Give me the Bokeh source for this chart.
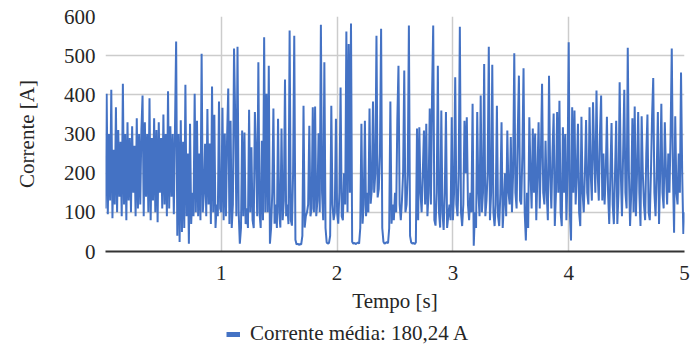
from bokeh.plotting import figure
from bokeh.layouts import column
from bokeh.models import FixedTicker, Legend, LegendItem
from bokeh.embed import file_html
from bokeh.resources import INLINE

# Sampled current [A], one sample every 0.01 s, from 0.00 s to 5.00 s
passo = 0.01
corrente = [
    110, 403, 95, 300, 130, 413, 85, 260, 120, 368,
    100, 310, 140, 280, 90, 428, 120, 300, 80, 330,
    130, 290, 100, 320, 150, 270, 90, 340, 110, 300,
    120, 310, 398, 90, 330, 140, 300, 100, 391, 80,
    290, 130, 340, 100, 310, 75, 330, 150, 290, 110,
    350, 120, 300, 90, 409, 110, 320, 140, 300, 95,
    310, 536, 40, 300, 24, 335, 50, 280, 60, 426,
    90, 250, 20, 326, 70, 150, 90, 403, 100, 334,
    90, 250, 80, 505, 100, 150, 275, 90, 364, 120,
    276, 70, 421, 100, 349, 60, 120, 90, 383, 110,
    100, 367, 80, 301, 90, 292, 416, 70, 334, 60,
    120, 518, 343, 90, 523, 100, 20, 60, 309, 90,
    304, 70, 110, 60, 362, 100, 266, 80, 60, 356,
    250, 90, 483, 100, 60, 283, 80, 547, 100, 403,
    100, 474, 20, 60, 150, 365, 71, 120, 60, 339,
    100, 61, 314, 80, 130, 439, 90, 120, 70, 564,
    80, 66, 200, 551, 30, 18, 20, 17, 19, 18,
    40, 372, 61, 90, 100, 120, 321, 90, 110, 368,
    100, 370, 90, 130, 302, 100, 579, 150, 80, 483,
    60, 23, 20, 22, 40, 372, 120, 80, 100, 339,
    100, 71, 150, 419, 90, 80, 200, 120, 562, 100,
    530, 150, 582, 25, 20, 22, 19, 21, 23, 20,
    60, 326, 71, 120, 334, 90, 150, 100, 365, 122,
    160, 383, 150, 200, 551, 138, 160, 250, 569, 60,
    25, 20, 22, 24, 21, 60, 383, 71, 120, 80,
    150, 100, 334, 474, 120, 80, 130, 200, 462, 100,
    120, 200, 577, 40, 23, 20, 22, 19, 23, 314,
    80, 317, 150, 100, 200, 309, 120, 326, 90, 150,
    365, 120, 403, 577, 80, 66, 150, 474, 100, 61,
    360, 100, 55, 150, 356, 60, 90, 120, 80, 343,
    80, 150, 445, 120, 90, 200, 574, 100, 65, 120,
    334, 200, 343, 120, 80, 150, 100, 377, 15, 100,
    60, 356, 150, 90, 398, 100, 150, 479, 90, 130,
    200, 523, 80, 150, 477, 100, 65, 120, 372, 90,
    65, 150, 330, 60, 120, 200, 90, 309, 150, 120,
    292, 100, 200, 506, 150, 110, 300, 449, 130, 120,
    250, 468, 100, 28, 150, 60, 343, 200, 110, 314,
    150, 301, 80, 200, 330, 110, 250, 428, 150, 120,
    283, 150, 80, 449, 200, 110, 250, 352, 65, 150,
    356, 150, 385, 100, 65, 317, 150, 300, 80, 200,
    534, 100, 28, 368, 150, 360, 120, 200, 326, 100,
    65, 344, 150, 100, 200, 336, 150, 120, 368, 200,
    130, 381, 250, 150, 411, 200, 130, 300, 398, 130,
    250, 120, 200, 344, 150, 70, 200, 328, 120, 70,
    200, 334, 70, 150, 432, 200, 90, 250, 413, 150,
    110, 520, 200, 65, 150, 340, 100, 370, 90, 200,
    356, 150, 65, 345, 200, 120, 80, 250, 350, 100,
    80, 200, 345, 443, 150, 90, 200, 356, 70, 200,
    377, 150, 110, 330, 200, 120, 250, 150, 300, 518,
    200, 48, 345, 150, 120, 250, 150, 457, 200, 45,
    100,
]
tempo = [round(i * passo, 2) for i in range(len(corrente))]

x_ticks = [1, 2, 3, 4, 5]
y_ticks = [0, 100, 200, 300, 400, 500, 600]
rotulo_legenda = "Corrente média: 180,24 A"
rotulo_x = "Tempo [s]"
rotulo_y = "Corrente [A]"

AZUL = "#4472C4"
FONTE = "'Liberation Serif', 'Times New Roman', serif"
TEXTO = "#262626"
TAM = "21px"

p = figure(width=692, height=320, x_range=(0, 5), y_range=(0, 600),
           output_backend="svg", toolbar_location=None,
           min_border_left=105, min_border_right=8, min_border_top=16,
           min_border_bottom=69)
p.outline_line_color = None
p.background_fill_color = "white"
p.border_fill_color = "white"

p.line(tempo, corrente, line_color=AZUL, line_width=2)

# axes
xa = p.xaxis[0]
xa.ticker = FixedTicker(ticks=x_ticks)
xa.axis_label = rotulo_x
xa.axis_line_color = "#333333"
xa.axis_line_width = 2
xa.major_tick_line_color = None
xa.minor_tick_line_color = None
xa.major_tick_out = 0
xa.major_tick_in = 0
xa.major_label_standoff = 14
xa.axis_label_standoff = 6
xa.major_label_text_font = FONTE
xa.major_label_text_font_size = TAM
xa.major_label_text_color = TEXTO
xa.axis_label_text_font = FONTE
xa.axis_label_text_font_size = TAM
xa.axis_label_text_font_style = "normal"
xa.axis_label_text_color = TEXTO

ya = p.yaxis[0]
ya.ticker = FixedTicker(ticks=y_ticks)
ya.axis_label = rotulo_y
ya.axis_line_color = None
ya.major_tick_line_color = None
ya.minor_tick_line_color = None
ya.major_tick_out = 0
ya.major_tick_in = 0
ya.major_label_standoff = 10
ya.axis_label_standoff = 22
ya.major_label_text_font = FONTE
ya.major_label_text_font_size = TAM
ya.major_label_text_color = TEXTO
ya.axis_label_text_font = FONTE
ya.axis_label_text_font_size = TAM
ya.axis_label_text_font_style = "normal"
ya.axis_label_text_color = TEXTO

p.xgrid.ticker = FixedTicker(ticks=x_ticks)
p.ygrid.ticker = FixedTicker(ticks=y_ticks)
for g in (p.xgrid[0], p.ygrid[0]):
    g.grid_line_color = "#cccccc"
    g.grid_line_width = 1.5

# legend strip below the chart (its frame is aligned with the chart frame)
q = figure(width=692, height=27, x_range=(0, 1), y_range=(0, 1),
           output_backend="svg", toolbar_location=None,
           x_axis_type=None, y_axis_type=None,
           min_border_left=0, min_border_right=0, min_border_top=0,
           min_border_bottom=0)
q.outline_line_color = None
q.xgrid.visible = False
q.ygrid.visible = False
q.background_fill_color = "white"
q.border_fill_color = "white"
# single-sample line: draws nothing itself, only supplies the legend key
chave = q.line(tempo[:1], corrente[:1], line_color=AZUL, line_width=5)
legenda = Legend(items=[LegendItem(label=rotulo_legenda, renderers=[chave])],
                 location=(121, 1), orientation="horizontal",
                 padding=0, margin=0, spacing=0,
                 glyph_width=14, glyph_height=24, label_height=24,
                 label_standoff=10,
                 border_line_color=None, background_fill_alpha=0,
                 label_text_font=FONTE, label_text_font_size=TAM,
                 label_text_color=TEXTO)
q.add_layout(legenda, "center")

open("out.html", "w").write(file_html(column(p, q, spacing=0), INLINE))
